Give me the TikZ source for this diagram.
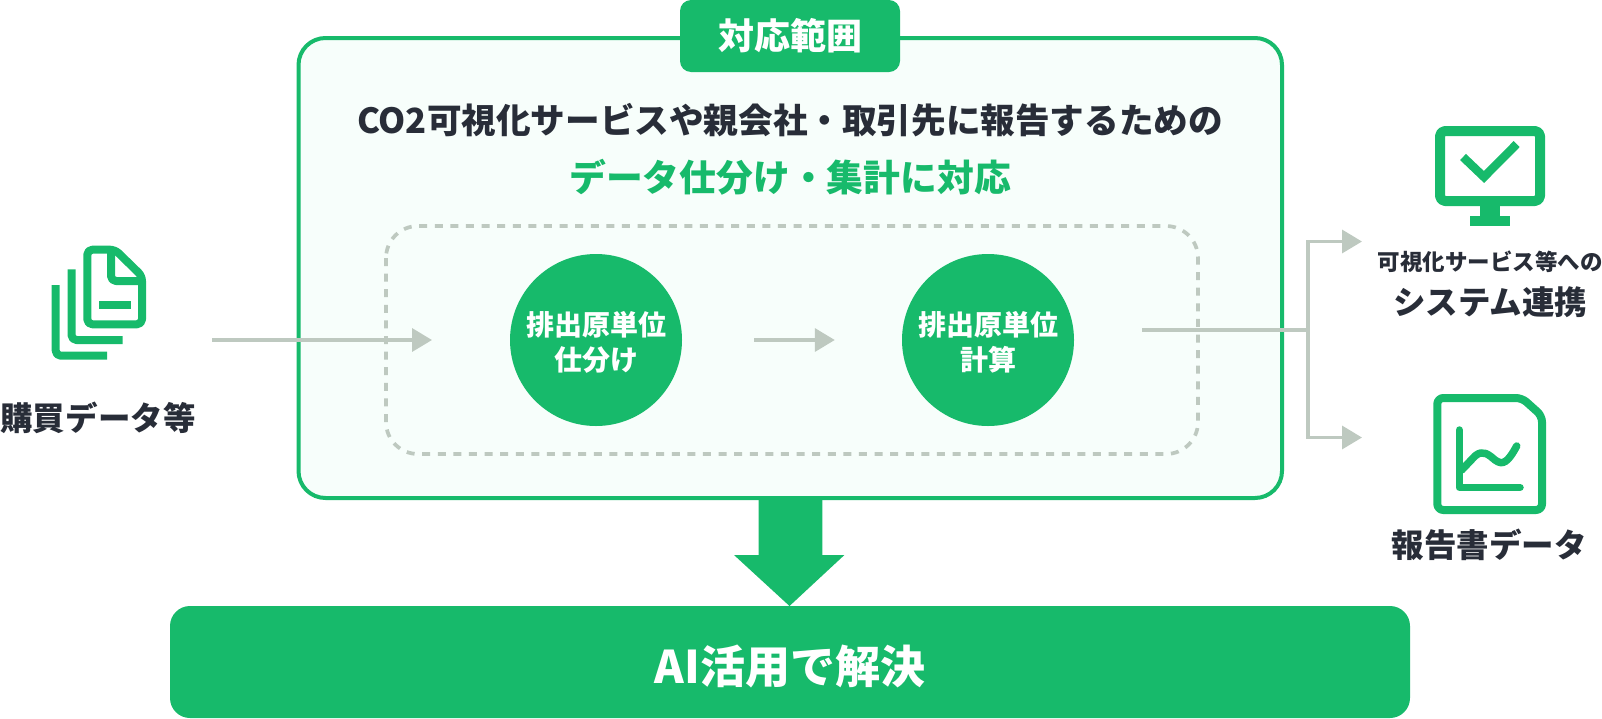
\documentclass[tikz,border=0pt]{standalone}
\usepackage{fontspec}
\setmainfont{Noto Sans CJK JP}
\usetikzlibrary{arrows.meta}
\definecolor{mygreen}{HTML}{17BA6B}
\definecolor{mygray}{HTML}{BEC9C0}
\definecolor{mydark}{HTML}{282D38}
\definecolor{mypale}{HTML}{F7FEFB}
\tikzset{
  flowline/.style = {draw = mygray, line width = 3.5pt, -{Triangle[length = 20pt, width = 23pt]}},
  iconline/.style = {draw = mygreen, line width = 8pt, line join = round},
  roundcirc/.style = {circle, fill = mygreen, text = white, minimum size = 172pt, inner sep = 0pt, align = center, font = \fontsize{28}{37}\selectfont\bfseries},
  darklabel/.style = {inner sep = 0pt, text = mydark, font = \fontsize{32.5}{38}\selectfont\bfseries}
}
\begin{document}
\begin{tikzpicture}[x = 1pt, y = -1pt]
\useasboundingbox (0,0) rectangle (1602,718);
\pgfmathsetmacro\circy{340};
\draw [fill = mypale, draw = mygreen, line width = 4pt, rounded corners = 27pt] (298.5,38) rectangle (1282,498);
\draw [draw = mygray, line width = 3.7pt, dash pattern = on 8pt off 7.6pt, rounded corners = 32pt] (386,226) rectangle (1198,454);
\node [fill = mygreen, text = white, rounded corners = 11pt, minimum width = 220pt, minimum height = 72pt, inner sep = 0pt, font = \fontsize{36}{42}\selectfont\bfseries] (tag) at (790,36) {対応範囲};
\node [darklabel, font = \fontsize{34.6}{42}\selectfont\bfseries] (title) at (790,120.5) {CO2可視化サービスや親会社・取引先に報告するための};
\node [darklabel, text = mygreen, font = \fontsize{36.8}{42}\selectfont\bfseries] (subtitle) at (790,177) {データ仕分け・集計に対応};
\node [roundcirc] (sortcirc) at (596,\circy) {\rule{0pt}{28pt}排出原単位\\[-2pt]仕分け};
\node [roundcirc] (calccirc) at (988,\circy) {\rule{0pt}{28pt}排出原単位\\[-2pt]計算};
\coordinate (inputstart) at (212,\circy);
\coordinate (inputend) at (432,\circy);
\coordinate (outputstart) at (1142,330);
\coordinate (branch) at (1308,330);
\coordinate (upperend) at (1362,241.5);
\coordinate (lowerend) at (1362,437.5);
\draw [flowline] (inputstart) -- (inputend);
\draw [flowline, shorten < = 72pt, shorten > = 67pt] (sortcirc) -- (calccirc);
\draw [flowline, -] (outputstart) -- (branch);
\draw [flowline] (branch) |- (upperend);
\draw [flowline] (branch) |- (lowerend);
\node [fill = mygreen, text = white, rounded corners = 20pt, minimum width = 1240pt, minimum height = 112pt, inner sep = 0pt, font = \fontsize{45}{52}\selectfont\bfseries] (result) at (790,662) {\rule{0pt}{47pt}AI活用で解決};
\fill [mygreen] (758.7,498) -- (822.4,498) -- (822.4,555) -- (844.4,555) -- (789.5,606) -- (734,555) -- (758.7,555) -- cycle;
\node [darklabel] (buylabel) at (98,417.5) {購買データ等};
\node [darklabel, font = \fontsize{22.5}{26}\selectfont\bfseries] (linklabel) at (1490,261.5) {可視化サービス等への};
\node [darklabel] (systemlabel) at (1490,302.5) {システム連携};
\node [darklabel] (reportlabel) at (1489,545) {報告書データ};
\draw [iconline, rounded corners = 5pt] (100,249.7) -- (87.3,249.7) -- (87.3,324.3) -- (142,324.3) -- (142,276) -- (115,249.7) -- cycle;
\draw [iconline, rounded corners = 5pt] (111,249.7) -- (111,281) -- (142,281);
\fill [mygreen] (99,301) rectangle (130.7,309);
\draw [iconline, rounded corners = 5pt] (71.5,269.3) -- (71.5,340) -- (122.7,340);
\draw [iconline, rounded corners = 5pt] (55.7,285) -- (55.7,355.7) -- (107,355.7);
\draw [iconline, line width = 10pt, rounded corners = 5pt] (1440,131) rectangle (1540,201);
\fill [mygreen] (1480,206) rectangle (1500,216);
\fill [mygreen] (1470,216) rectangle (1510,226);
\draw [iconline, line width = 8.5pt, line join = miter] (1463,157) -- (1484,177) -- (1516.7,144);
\draw [iconline, rounded corners = 6pt] (1480,398) -- (1437.3,398) -- (1437.3,510) -- (1542,510) -- (1542,416) -- (1522,398) -- cycle;
\draw [iconline, line width = 7.5pt, line cap = round, line join = round] (1459.3,430) -- (1459.3,487.3) -- (1520,487.3);
\draw [iconline, line width = 7.5pt, line cap = round] (1461.7,470) -- (1475,456) .. controls (1483,449) and (1489,455) .. (1495,460) .. controls (1503,466) and (1508,462) .. (1516.7,446);
\end{tikzpicture}
\end{document}
